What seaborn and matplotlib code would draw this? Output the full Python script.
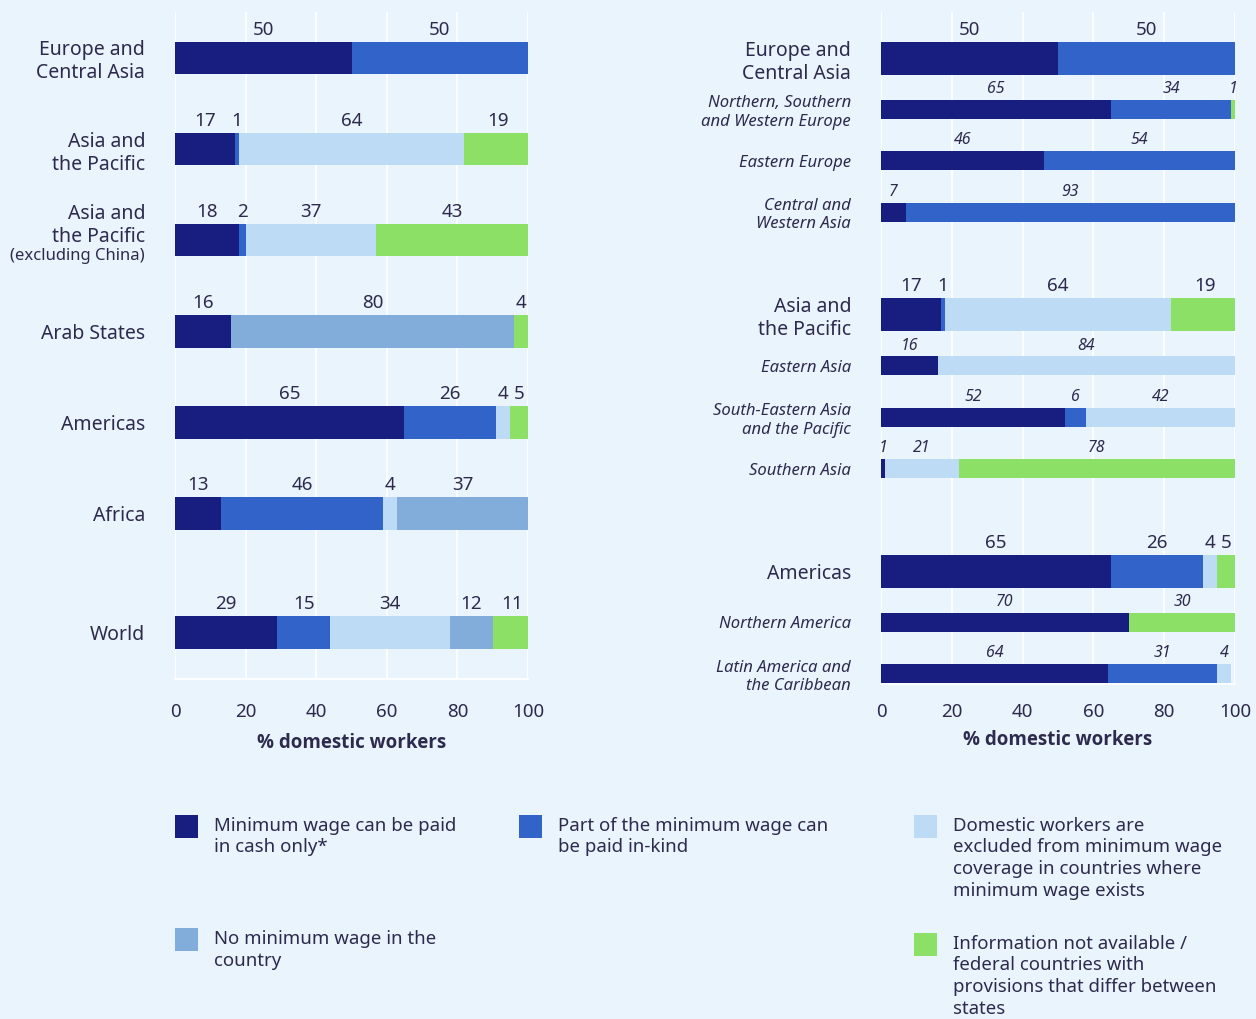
import numpy as np
import pandas as pd
import matplotlib
matplotlib.use("Agg")
from matplotlib import pyplot as plt
from matplotlib.patches import Rectangle
import seaborn as sns


segments = [
    "Minimum wage can be paid\nin cash only*",
    "Part of the minimum wage can\nbe paid in-kind",
    "Domestic workers are\nexcluded from minimum wage\ncoverage in countries where\nminimum wage exists",
    "No minimum wage in the\ncountry",
    "Information not available /\nfederal countries with\nprovisions that differ between\nstates",
]

# left panel: regions
left_regions = ["Europe and\nCentral Asia", "Asia and\nthe Pacific",
                "Asia and\nthe Pacific\n(excluding China)", "Arab States",
                "Americas", "Africa", "World"]
left_cash = [50, 17, 18, 16, 65, 13, 29]
left_inkind = [50, 1, 2, 0, 26, 46, 15]
left_excluded = [0, 64, 37, 0, 4, 4, 34]
left_nomw = [0, 0, 0, 80, 0, 37, 12]
left_na = [0, 19, 43, 4, 5, 0, 11]

# right panel: regions and subregions
right_regions = ["Europe and\nCentral Asia", "Northern, Southern\nand Western Europe",
                 "Eastern Europe", "Central and\nWestern Asia",
                 "Asia and\nthe Pacific", "Eastern Asia",
                 "South-Eastern Asia\nand the Pacific", "Southern Asia",
                 "Americas", "Northern America", "Latin America and\nthe Caribbean"]
right_is_sub = [False, True, True, True, False, True, True, True, False, True, True]
right_cash = [50, 65, 46, 7, 17, 16, 52, 1, 65, 70, 64]
right_inkind = [50, 34, 54, 93, 1, 0, 6, 0, 26, 0, 31]
right_excluded = [0, 0, 0, 0, 64, 84, 42, 21, 4, 0, 4]
right_nomw = [0, 0, 0, 0, 0, 0, 0, 0, 0, 0, 0]
right_na = [0, 1, 0, 0, 19, 0, 0, 78, 5, 30, 0]

colors = ["#171E80", "#3163C8", "#BEDBF6", "#82ADDA", "#8DE066"]
bg = "#EAF4FC"
ink = "#2D2A4E"

sns.set_theme(style="white")
plt.rcParams["font.family"] = ["Noto Sans", "DejaVu Sans"]


def stack_frame(regions, pos, layers):
    rows = []
    layers = np.array(layers)
    cums = np.cumsum(layers, axis=0)
    for k in range(len(layers)):
        for r, p, v, c in zip(regions, pos, layers[k], cums[k]):
            rows.append({"region": r, "pos": p, "layer": k,
                         "value": v, "cum": c, "left": c - v})
    return pd.DataFrame(rows)


def draw_stack(ax, df, bar_h, label_size, italic):
    uniq = np.unique(df["pos"])
    native = np.diff(uniq).min() if len(uniq) > 1 else 1
    for k in reversed(range(len(colors))):
        sub = df[df["layer"] == k]
        sns.barplot(data=sub, x="cum", y="pos", orient="y", native_scale=True,
                    color=colors[k], saturation=1, width=bar_h / native,
                    errorbar=None, linewidth=0, ax=ax)
    for _, r in df[df["value"] > 0].iterrows():
        ax.annotate(str(int(r["value"])), (r["left"] + r["value"] / 2, r["pos"] - bar_h / 2),
                    xytext=(0, 5), textcoords="offset points", ha="center",
                    va="baseline", fontsize=label_size, color=ink,
                    fontstyle="italic" if italic else "normal")


def style_axis(ax, pad):
    ax.set_facecolor(bg)
    ax.set_xlim(0, 100)
    ax.set_xticks([0, 20, 40, 60, 80, 100])
    ax.grid(axis="x", color="white", linewidth=1.3)
    ax.grid(axis="y", visible=False)
    ax.set_axisbelow(True)
    for s in ["top", "right", "left"]:
        ax.spines[s].set_visible(False)
    ax.spines["bottom"].set_color("white")
    ax.spines["bottom"].set_linewidth(1.3)
    ax.tick_params(axis="x", length=0, pad=pad, labelsize=13.5, labelcolor=ink)
    ax.tick_params(axis="y", length=0, pad=21.6, labelcolor=ink)
    ax.set_xlabel("% domestic workers", fontsize=13.5, fontweight="bold",
                  family=["Open Sans", "Noto Sans", "DejaVu Sans"],
                  color=ink, labelpad=9)
    ax.set_ylabel("")


fig = plt.figure(figsize=(12.56, 10.19), dpi=100)
fig.patch.set_facecolor(bg)

# ---- left panel
ax1 = fig.add_axes([175 / 1256, 1 - 679 / 1019, 353 / 1256, 667 / 1019])
left_pos = [0, 1, 2, 3, 4, 5, 6.31]
df_left = stack_frame(left_regions, left_pos,
                      [left_cash, left_inkind, left_excluded, left_nomw, left_na])
draw_stack(ax1, df_left, 0.36, 13.5, False)
style_axis(ax1, 17)
ax1.set_ylim(6.82, -0.505)
ax1.set_yticks(left_pos)
ticklabels = []
for lab, p in zip(left_regions, left_pos):
    if "(" in lab:
        head, tail = lab.rsplit("\n", 1)
        ax1.annotate(head, (0, p), xycoords=("axes fraction", "data"),
                     xytext=(-21.6, 10.5), textcoords="offset points",
                     ha="right", va="center", fontsize=14, color=ink)
        ax1.annotate(tail, (0, p), xycoords=("axes fraction", "data"),
                     xytext=(-21.6, -11.5), textcoords="offset points",
                     ha="right", va="center", fontsize=12, color=ink)
        ticklabels.append("")
    else:
        ticklabels.append(lab)
ax1.set_yticklabels(ticklabels, fontsize=14)

# ---- right panel
ax2 = fig.add_axes([881 / 1256, 1 - 684 / 1019, 354 / 1256, 672 / 1019])
right_pos = []
p = -1
for i, sub in enumerate(right_is_sub):
    p += 1
    if not sub and i > 0:
        p += 1
    right_pos.append(p)
layers_r = np.array([right_cash, right_inkind, right_excluded, right_nomw, right_na])
main_idx = [i for i, s in enumerate(right_is_sub) if not s]
sub_idx = [i for i, s in enumerate(right_is_sub) if s]
df_main = stack_frame([right_regions[i] for i in main_idx], [right_pos[i] for i in main_idx],
                      layers_r[:, main_idx])
df_sub = stack_frame([right_regions[i] for i in sub_idx], [right_pos[i] for i in sub_idx],
                     layers_r[:, sub_idx])
draw_stack(ax2, df_main, 0.64, 13.5, False)
draw_stack(ax2, df_sub, 0.37, 11.5, True)
style_axis(ax2, 13.5)
ax2.xaxis.labelpad = 7
ax2.set_ylim(12.2, -0.9)
ax2.set_yticks(right_pos)
ax2.set_yticklabels(right_regions)
for t, sub in zip(ax2.get_yticklabels(), right_is_sub):
    if sub:
        t.set_fontstyle("italic")
        t.set_fontsize(12)
    else:
        t.set_fontsize(14)

# ---- legend
W, H = 1256, 1019
legend_spots = [(175, 815), (519, 815), (914, 815), (175, 928), (914, 933)]
for k, (lx, ly) in enumerate(legend_spots):
    fig.add_artist(Rectangle((lx / W, 1 - (ly + 23) / H), 23 / W, 23 / H,
                             transform=fig.transFigure, color=colors[k], lw=0))
    fig.text((lx + 39) / W, 1 - (ly + 2) / H, segments[k], ha="left", va="top",
             fontsize=13.4, color=ink, linespacing=1.25)

fig.savefig("out.png", dpi=100, facecolor=bg)
